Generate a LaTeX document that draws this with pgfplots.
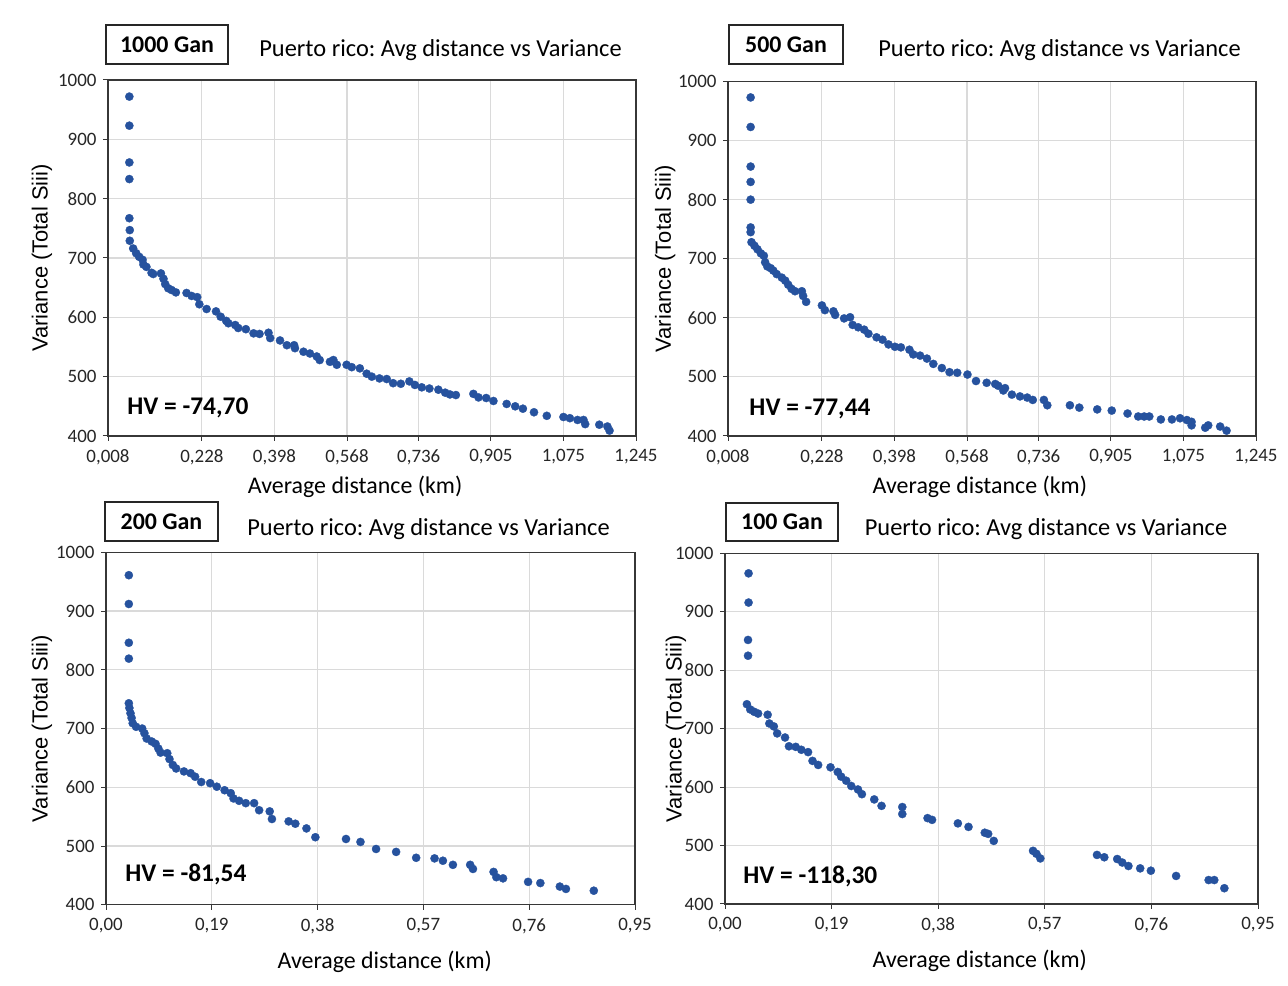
\documentclass[border=0pt]{standalone}
\usepackage{pgfplots}
\pgfplotsset{compat=1.18}
\usepackage{pgfplotstable}
\usepackage{fontspec}
\setmainfont{Carlito}
\newfontfamily\arialf{Liberation Sans}
\definecolor{ptblue}{RGB}{38,82,158}
\definecolor{gridc}{RGB}{218,218,218}
\definecolor{framec}{RGB}{55,55,55}
\frenchspacing

\pgfplotstableread{
x y
0.058 972
0.058 923
0.058 861
0.058 833
0.058 767
0.059 747
0.059 729
0.067 716
0.074 708
0.081 702
0.089 697
0.091 689
0.098 685
0.110 675
0.114 673
0.132 674
0.138 665
0.142 656
0.149 649
0.157 646
0.167 642
0.192 641
0.204 636
0.217 634
0.222 622
0.239 614
0.261 610
0.272 601
0.285 594
0.290 590
0.306 587
0.313 582
0.331 580
0.349 573
0.363 572
0.384 574
0.388 565
0.411 561
0.427 553
0.444 553
0.446 548
0.466 542
0.481 539
0.497 534
0.504 528
0.528 525
0.536 528
0.544 520
0.567 520
0.579 516
0.598 514
0.614 505
0.626 500
0.644 497
0.661 496
0.676 489
0.694 488
0.714 492
0.727 486
0.743 482
0.761 480
0.782 478
0.798 473
0.809 470
0.823 469
0.864 471
0.876 465
0.894 464
0.911 459
0.942 454
0.962 450
0.980 446
1.006 440
1.036 434
1.075 432
1.090 430
1.108 427
1.122 427
1.126 420
1.159 419
1.178 416
1.183 409
}\tlData

\pgfplotstableread{
x y
0.061 973
0.061 923
0.061 856
0.061 830
0.061 800
0.061 753
0.061 745
0.063 728
0.070 722
0.077 716
0.085 709
0.092 705
0.095 694
0.100 687
0.108 684
0.114 680
0.122 674
0.134 668
0.142 663
0.149 656
0.157 649
0.165 645
0.181 645
0.184 637
0.191 627
0.228 621
0.235 613
0.255 611
0.259 605
0.280 599
0.294 601
0.300 588
0.313 584
0.327 580
0.337 573
0.356 567
0.370 563
0.384 555
0.399 551
0.413 550
0.433 546
0.442 538
0.458 536
0.474 531
0.489 522
0.509 515
0.527 508
0.545 507
0.569 504
0.589 493
0.614 490
0.634 488
0.641 485
0.653 477
0.657 481
0.673 470
0.692 467
0.709 465
0.722 461
0.748 461
0.756 452
0.809 452
0.831 448
0.873 445
0.907 443
0.944 438
0.969 433
0.983 433
0.995 433
1.022 428
1.048 428
1.067 430
1.083 427
1.094 424
1.094 418
1.126 414
1.133 418
1.161 416
1.176 409
}\trData

\pgfplotstableread{
x y
0.041 961
0.041 912
0.041 846
0.041 819
0.041 743
0.042 735
0.044 726
0.046 718
0.048 709
0.054 703
0.065 700
0.069 692
0.073 683
0.082 678
0.089 674
0.094 666
0.098 659
0.110 658
0.114 648
0.120 638
0.126 632
0.140 627
0.152 624
0.160 618
0.171 609
0.187 607
0.199 601
0.213 595
0.224 590
0.229 581
0.239 577
0.251 573
0.266 573
0.275 561
0.294 559
0.298 546
0.328 542
0.340 538
0.360 530
0.376 515
0.431 512
0.457 507
0.485 495
0.521 490
0.557 480
0.590 479
0.605 475
0.623 468
0.654 468
0.659 461
0.696 456
0.701 447
0.713 445
0.758 439
0.780 437
0.815 431
0.826 427
0.876 424
}\blData

\pgfplotstableread{
x y
0.042 966
0.042 916
0.041 852
0.041 825
0.039 742
0.045 733
0.052 729
0.059 726
0.076 724
0.079 709
0.087 704
0.093 692
0.107 685
0.114 670
0.126 669
0.136 664
0.148 660
0.156 645
0.166 638
0.188 634
0.201 626
0.207 618
0.216 611
0.225 602
0.237 596
0.244 588
0.266 579
0.279 568
0.316 566
0.316 554
0.361 547
0.369 544
0.415 538
0.434 532
0.463 522
0.469 520
0.479 508
0.549 491
0.555 486
0.562 478
0.663 484
0.676 480
0.699 477
0.708 471
0.719 465
0.740 461
0.759 457
0.804 448
0.862 441
0.872 441
0.890 427
}\brData

\pgfplotsset{
  panel/.style={
    scale only axis,
    anchor=south west,
    ymin=400, ymax=1000,
    ytick={400,500,...,1000},
    grid=major,
    grid style={line width=1.1bp, draw=gridc},
    axis line style={line width=1.4bp, draw=framec},
    tick style={line width=1bp, draw=framec},
    tick align=outside,
    major tick length=5bp,
    xtick pos=left, ytick pos=left,
    ticklabel style={font=\fontsize{19}{21}\selectfont, text=black!85},
    xticklabel style={yshift=-5bp},
    yticklabel style={xshift=-3bp},
    /pgf/number format/assume math mode=true,
    /pgf/number format/1000 sep={},
    xlabel={Average distance (km)},
    ylabel={Variance (Total Siii)},
    xlabel style={font=\fontsize{24}{26}\selectfont, anchor=center},
    ylabel style={font=\arialf\fontsize{22}{24}\selectfont, anchor=center},
  },
  toppanel/.style={
    panel,
    xmin=0.008, xmax=1.245,
    xtick={0.008,0.228,0.398,0.568,0.736,0.905,1.075,1.245},
    xticklabels={{0,008},{0,228},{0,398},{0,568},{0,736},{0,905},{1,075},{1,245}},
  },
  botpanel/.style={
    panel,
    xmin=0, xmax=0.95,
    xtick={0,0.19,0.38,0.57,0.76,0.95},
    xticklabels={{0,00},{0,19},{0,38},{0,57},{0,76},{0,95}},
  },
  pts/.style={only marks, mark=*, mark size=4.1bp, mark options={fill=ptblue, draw=ptblue, line width=0.3bp}},
}

\newcommand{\hv}[1]{\fontsize{25.5}{27}\selectfont\bfseries #1}
\tikzset{ganbox/.style={draw=black!85, line width=2bp, font=\fontsize{24}{26}\selectfont\bfseries, inner sep=0pt, anchor=center},
         ttl/.style={font=\fontsize{24.5}{27}\selectfont, anchor=center, inner sep=0pt}}

\begin{document}
\begin{tikzpicture}[x=1bp,y=1bp]
\path[use as bounding box, fill=white] (0,0) rectangle (1288,986);

% Top left
\begin{axis}[toppanel, at={(108bp,550bp)}, width=528bp, height=356bp,
  xlabel style={at={(axis description cs:0.468,-0.143)}},
  ylabel style={at={(axis description cs:-0.125,0.5)}}]
  \addplot[pts] table[x=x,y=y] {\tlData};
  \node[anchor=west] at (rel axis cs:0.030,0.079) {\hv{HV = -74,70}};
\end{axis}
\node[ganbox, minimum width=122bp, minimum height=39bp] at (167,941.5) {1000 Gan};
\node[ttl] at (440.5,936) {Puerto rico: Avg distance vs Variance};

% Top right
\begin{axis}[toppanel, at={(728bp,550bp)}, width=528bp, height=354.5bp,
  xlabel style={at={(axis description cs:0.477,-0.143)}},
  ylabel style={at={(axis description cs:-0.119,0.5)}}]
  \addplot[pts] table[x=x,y=y] {\trData};
  \node[anchor=west] at (rel axis cs:0.034,0.076) {\hv{HV = -77,44}};
\end{axis}
\node[ganbox, minimum width=114bp, minimum height=39bp] at (786,941.5) {500 Gan};
\node[ttl] at (1059.5,936) {Puerto rico: Avg distance vs Variance};

% Bottom left
\begin{axis}[botpanel, at={(106bp,81.2bp)}, width=529bp, height=352.5bp,
  xlabel style={at={(axis description cs:0.527,-0.162)}},
  ylabel style={at={(axis description cs:-0.121,0.5)}}]
  \addplot[pts] table[x=x,y=y] {\blData};
  \node[anchor=west] at (rel axis cs:0.030,0.085) {\hv{HV = -81,54}};
\end{axis}
\node[ganbox, minimum width=113bp, minimum height=39bp] at (161.5,464.5) {200 Gan};
\node[ttl] at (428.5,457) {Puerto rico: Avg distance vs Variance};

% Bottom right
\begin{axis}[botpanel, at={(725bp,82bp)}, width=533bp, height=350.5bp,
  xlabel style={at={(axis description cs:0.478,-0.163)}},
  ylabel style={at={(axis description cs:-0.092,0.5)}}]
  \addplot[pts] table[x=x,y=y] {\brData};
  \node[anchor=west] at (rel axis cs:0.028,0.080) {\hv{HV = -118,30}};
\end{axis}
\node[ganbox, minimum width=112bp, minimum height=38bp] at (782,464) {100 Gan};
\node[ttl] at (1046,457) {Puerto rico: Avg distance vs Variance};
\end{tikzpicture}
\end{document}
